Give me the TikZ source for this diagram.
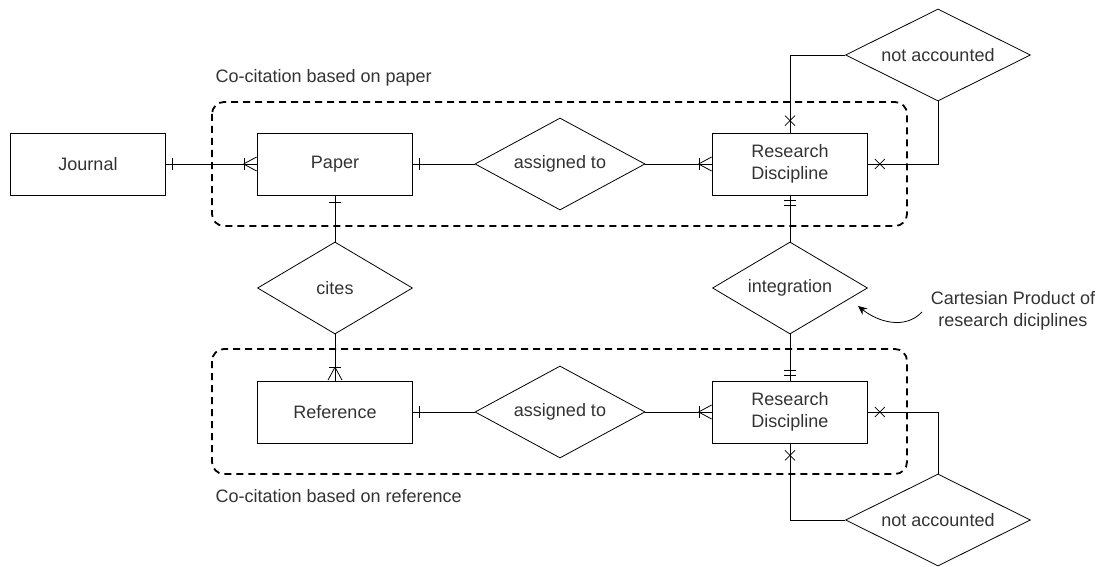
\documentclass[tikz,border=0pt]{standalone}
\usepackage{fontspec}
\setmainfont{Liberation Sans}
\usepackage{tikz}
\usetikzlibrary{arrows.meta}
\usetikzlibrary{shapes.geometric}
\usetikzlibrary{decorations.markings}

\begin{document}
\begin{tikzpicture}[
        x=1pt, y=-1pt,
        font=\fontsize{18}{22}\selectfont,
        entity/.style={rectangle, draw, thick, minimum width=155pt, minimum height=62pt, align=center, text=black!80},
        relationship/.style={diamond, draw, thick, inner sep=0pt, align=center, text=black!80},
        line/.style={draw, thick},
        group/.style={draw, line width=1.8pt, dash pattern=on 7pt off 5pt, rounded corners=12pt},
        tick/.style={postaction={decorate, decoration={markings, mark=at position #1 with {\draw[thick] (0,-6pt) -- (0,6pt);}}}},
        many/.style={tick=-13pt, postaction={decorate, decoration={markings, mark=at position -0.5pt with {\draw[thick] (-13pt,0) -- (0,-7pt) (-13pt,0) -- (0,7pt);}}}},
        cross/.style={postaction={decorate, decoration={markings, mark=at position -12pt with {\draw[thick] (-5pt,-5pt) -- (5pt,5pt) (-5pt,5pt) -- (5pt,-5pt);}}}},
        onlyone/.style={tick=-5pt, tick=-10pt}
    ]
    \useasboundingbox (0,0) rectangle (1108,567);

    % --- groups ---
    \draw[group] (212,102) rectangle (907,226);
    \draw[group] (212,349) rectangle (907,474);
    \node[anchor=west, text=black!80] (lblpaper) at (212,78) {Co-citation based on paper};
    \node[anchor=west, text=black!80] (lblref) at (212,496) {Co-citation based on reference};

    % --- entities ---
    \node[entity] (Journal) at (88,164) {Journal};
    \node[entity] (Paper) at (335,164) {Paper};
    \node[entity] (RD1) at (790,164) {Research\\Discipline};
    \node[entity] (Reference) at (335,412) {Reference};
    \node[entity] (RD2) at (790,412) {Research\\Discipline};

    % --- relationships ---
    \node[relationship, aspect=1.85, minimum width=170pt, minimum height=92pt] (assigned1) at (560,164) {assigned to};
    \node[relationship, aspect=1.85, minimum width=170pt, minimum height=92pt] (assigned2) at (560,412) {assigned to};
    \node[relationship, aspect=1.68, minimum width=155pt, minimum height=92pt] (cites) at (335,288) {cites};
    \node[relationship, aspect=1.68, minimum width=155pt, minimum height=92pt] (integration) at (790,288) {integration};
    \node[relationship, aspect=2, minimum width=185pt, minimum height=92pt] (notacc1) at (938,55) {not accounted};
    \node[relationship, aspect=2, minimum width=185pt, minimum height=92pt] (notacc2) at (938,520) {not accounted};

    % --- links ---
    \draw[line, tick=6pt, many] (Journal) -- (Paper);
    \draw[line, tick=6pt] (Paper) -- (assigned1);
    \draw[line, many] (assigned1) -- (RD1);
    \draw[line, cross] (notacc1.west) -| (RD1.north);
    \draw[line, cross] (notacc1.south) |- (RD1.east);

    \draw[line, tick=7pt] (Paper) -- (cites);
    \draw[line, many] (cites) -- (Reference);
    \draw[line, onlyone] (integration) -- (RD1);
    \draw[line, onlyone] (integration) -- (RD2);

    \draw[line, tick=6pt] (Reference) -- (assigned2);
    \draw[line, many] (assigned2) -- (RD2);
    \draw[line, cross] (notacc2.west) -| (RD2.south);
    \draw[line, cross] (notacc2.north) |- (RD2.east);

    % --- note ---
    \node[align=center, text=black!80] (note) at (1013,311) {Cartesian Product of\\research diciplines};
    \coordinate (cpstart) at (922,312);
    \coordinate (cpend) at (858,306);
    \draw[thick, -{Stealth[length=9pt, width=8pt]}] (cpstart) .. controls (905,330) and (878,322) .. (cpend);

\end{tikzpicture}
\end{document}
